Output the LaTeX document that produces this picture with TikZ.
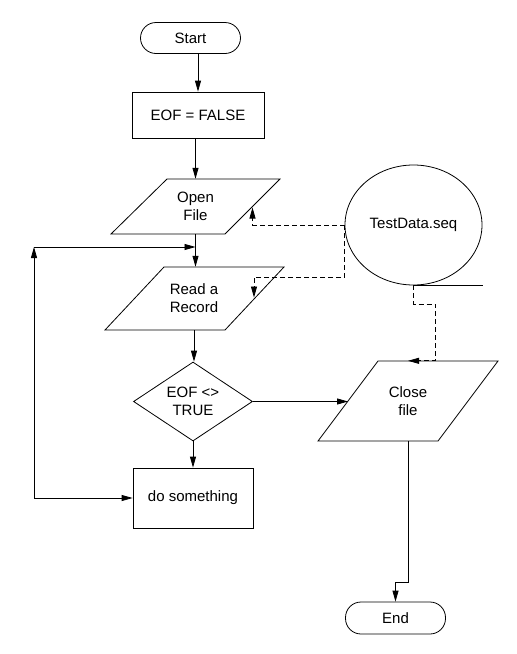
\documentclass[tikz,border=0pt]{standalone}
\usepackage{fontspec}
\setmainfont{Liberation Sans}
\usetikzlibrary{arrows.meta,shapes.geometric,calc}
\begin{document}
\begin{tikzpicture}[x=1pt,y=-1pt,
  every node/.style={font=\fontsize{15}{18}\selectfont, align=center, inner sep=0pt},
  line/.style={draw=black, line width=0.8pt},
  arr/.style={line, -{Triangle[length=11pt,width=6pt]}},
  darr/.style={arr, dash pattern=on 5pt off 3pt},
  term/.style={line, rectangle, rounded corners=15.5pt, minimum width=100pt, minimum height=31pt},
  procbox/.style={line, rectangle},
  iobox/.style={rectangle},
  iopoly/.style={line, line join=miter},
]
\useasboundingbox (0,0) rectangle (517,654);
\fill[white] (0,0) rectangle (517,654);

\node[term] (start) at (190.5,38) {Start};
\node[procbox, minimum width=132pt, minimum height=46pt] (eof) at (198,115) {EOF = FALSE};

\node[iobox, minimum width=169pt, minimum height=55pt] (open) at (195.5,206.5) {Open\\File};
\draw[iopoly] (167,179) -- (280,179) -- (225,234) -- (111,234) -- cycle;

\node[iobox, minimum width=179pt, minimum height=63pt] (read) at (194,298.5) {Read a\\Record};
\draw[iopoly] (164,267) -- (284,267) -- (225,330) -- (105,330) -- cycle;

\node[line, diamond, minimum width=119pt, minimum height=79pt, aspect=1.5] (dec) at (193,401.5) {EOF <>\\TRUE};

\node[procbox, minimum width=120pt, minimum height=60pt] (dosth) at (193,498) {do something};

\node[iobox, minimum width=180pt, minimum height=80pt] (close) at (408,401) {Close\\file};
\draw[iopoly] (378,361) -- (498,361) -- (438,441) -- (318,441) -- cycle;

\node[term, minimum height=32pt] (end) at (395.5,618) {End};

\node[line, ellipse, minimum width=137pt, minimum height=120pt] (tds) at (413.5,225) {TestData.seq};
\coordinate (tail) at ($(tds.south)+(69,0)$);
\draw[line] (tds.south) -- (tail);

% main flow
\draw[arr] (eof.north |- start.south) -- (eof.north);
\draw[arr] (open.north |- eof.south) -- (open.north);
\draw[arr] (open.south) -- (open.south |- read.north);
\draw[arr] (read.south) -- (read.south |- dec.north);
\draw[arr] (dec.south) -- (dosth.north);
\coordinate (closeL) at ($(close.center)+(-60,0)$);
\draw[arr] (dec.east) -- (closeL |- dec.east);
\coordinate (bend1) at ($(close.south)+(0,141)$);
\coordinate (bend2) at (end.north |- bend1);
\draw[arr] (close.south) -- (bend1) -- (bend2) -- (end.north);

% loop back
\coordinate (lb) at (34,498);
\coordinate (lt) at (34,247);
\coordinate (jn) at (open.south |- lt);
\draw[arr] (lb) -- (dosth.west);
\draw[arr] (lb) -- (lt);
\draw[arr] (lt) -- (jn);

% dashed data links
\coordinate (openR) at ($(open.center)+(57,1)$);
\draw[darr] (tds.west) -| (openR);
\coordinate (readR) at ($(read.center)+(60,-1)$);
\draw[darr] (tds.west) |- ($(readR)+(0,-20)$) -- (readR);
\coordinate (c1) at ($(tds.south)+(0,19)$);
\coordinate (c2) at ($(c1)+(22,0)$);
\coordinate (c3) at (c2 |- close.north);
\draw[darr] (tds.south) -- (c1) -- (c2) -- (c3) -- (close.north);
\end{tikzpicture}
\end{document}
